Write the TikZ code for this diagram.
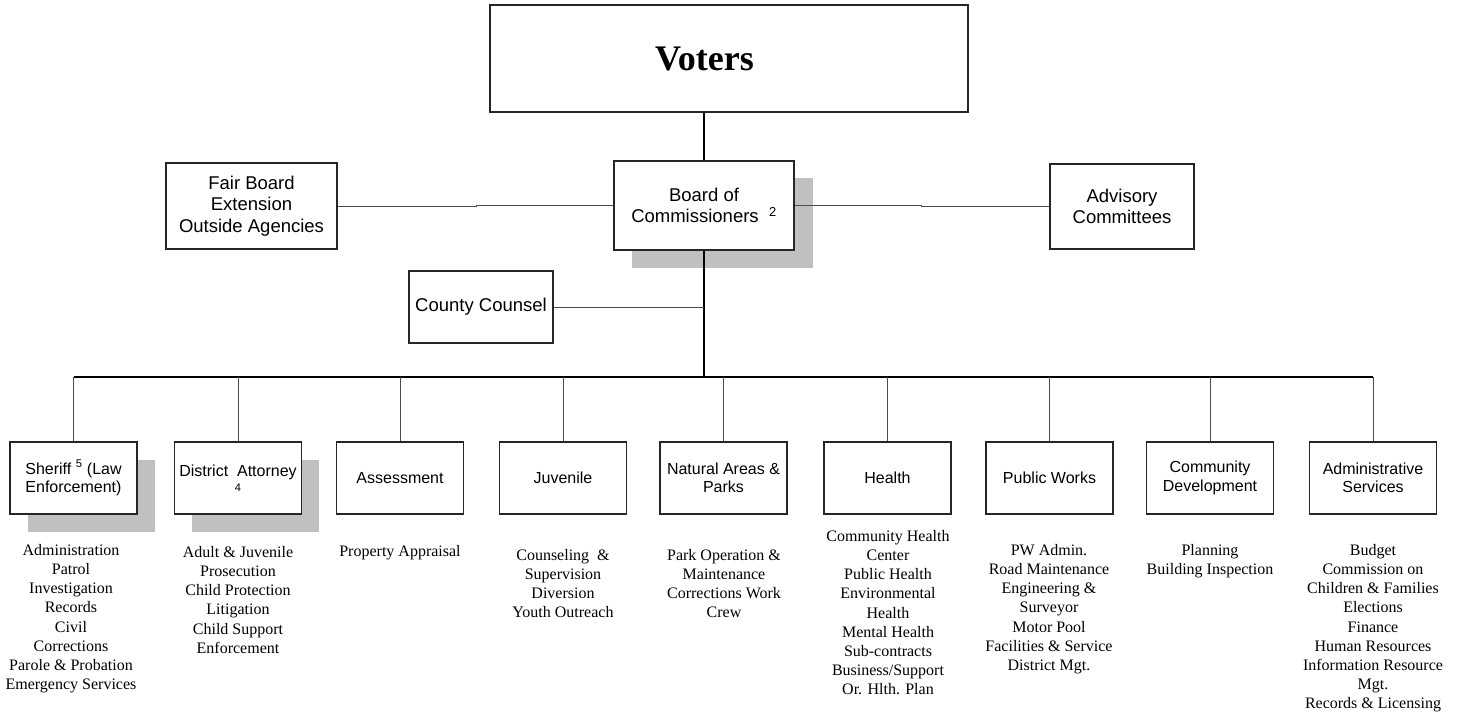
\documentclass[tikz,border=0pt]{standalone}
\usepackage{fontspec}
\setmainfont{Liberation Serif}
\newfontfamily\arialf{Liberation Sans}
\definecolor{shadowgray}{HTML}{C0C0C0}
\newcommand\substrut{\rule{0pt}{12pt}}
\begin{document}
\begin{tikzpicture}[x=1pt,y=-1pt,
 box/.style={draw=black!85, line width=1.2pt, fill=white, inner sep=0pt, align=center,
   minimum width=127pt, minimum height=72pt, font=\arialf\fontsize{16}{18.5}\selectfont},
 topbox/.style={box, font=\arialf\fontsize{18.5}{21.7}\selectfont},
 shadowbox/.style={fill=shadowgray, draw=none, inner sep=0pt, minimum width=127pt, minimum height=72pt},
 sub/.style={anchor=north, inner sep=0pt, align=center, font=\fontsize{16}{19.2}\selectfont},
 link/.style={draw=black!70, line width=0.9pt},
 trunk/.style={draw=black, line width=2pt}]
\useasboundingbox (0,0) rectangle (1458,714);

% shadows
\node[shadowbox, minimum width=181pt, minimum height=90pt] (boardsh) at (722.5,223) {};
\node[shadowbox] (sheriffsh) at (91.5,495.5) {};
\node[shadowbox] (dash) at (255.5,495.5) {};

% top part
\node[box, minimum width=478pt, minimum height=107pt] (voters) at (729,58.5) {};
\node[inner sep=0pt, font=\bfseries\fontsize{36}{40}\selectfont] (voterstxt) at (704.5,58.5) {Voters};
\node[topbox, minimum width=180pt, minimum height=89pt] (board) at (704,205.5) {Board of\\Commissioners\ \ \textsuperscript{2}};
\node[topbox, minimum width=171pt, minimum height=86pt] (fair) at (251.5,206) {Fair Board\\Extension\\Outside Agencies};
\node[topbox, minimum width=144pt, minimum height=85pt] (adv) at (1122,206.5) {Advisory\\Committees};
\node[topbox, minimum width=144pt, minimum height=72pt] (county) at (481,307) {County Counsel};

% departments
\node[box] (sheriff) at (73.5,478) {Sheriff \textsuperscript{5} (Law\\Enforcement)};
\node[box] (da) at (238,478) {District\ \ Attorney\\[-4pt]{\fontsize{11}{12}\selectfont 4}};
\node[box] (assess) at (400,478) {Assessment};
\node[box] (juv) at (563,478) {Juvenile};
\node[box] (nat) at (723.5,478) {Natural Areas \&\\Parks};
\node[box] (health) at (887.5,478) {Health};
\node[box] (pw) at (1049.5,478) {Public Works};
\node[box] (cd) at (1210,478) {Community\\Development};
\node[box] (admin) at (1373,478) {Administrative\\Services};

% connectors
\coordinate (bus) at (704,377);
\coordinate (ctr) at (704,307);
\coordinate (fj) at (476,0);
\coordinate (aj) at (921,0);
\draw[line width=1.2pt] (board.north |- voters.south) -- (board.north);
\draw[link] (fair.east) -- (fair.east -| fj) -- (board.west -| fj) -- (board.west);
\draw[link] (board.east) -- (board.east -| aj) -- (adv.west -| aj) -- (adv.west);
\draw[trunk] (board.south) -- (bus);
\draw[link] (county.east) -- (ctr);
\draw[trunk] (sheriff.north |- bus) -- (admin.north |- bus);
\foreach \n in {sheriff,da,assess,juv,nat,health,pw,cd,admin}
  \draw[link] (\n.north |- bus) -- (\n.north);

% sub texts
\node[sub] (sheriffsub) at (71,543) {\substrut Administration\\Patrol\\Investigation\\Records\\Civil\\Corrections\\Parole \& Probation\\Emergency Services};
\node[sub] (dasub) at (238,545) {\substrut Adult \& Juvenile\\Prosecution\\Child Protection\\Litigation\\Child Support\\Enforcement};
\node[sub] (assesssub) at (400,544) {\substrut Property Appraisal};
\node[sub] (juvsub) at (563,548) {\substrut Counseling\ \ \&\\Supervision\\Diversion\\Youth Outreach};
\node[sub] (natsub) at (724,548) {\substrut Park Operation \&\\Maintenance\\Corrections Work\\Crew};
\node[sub] (healthsub) at (888,529) {\substrut Community Health\\Center\\Public Health\\Environmental\\Health\\Mental Health\\Sub-contracts\\Business/Support\\Or. Hlth. Plan};
\node[sub] (pwsub) at (1049,543) {\substrut PW Admin.\\Road Maintenance\\Engineering \&\\Surveyor\\Motor Pool\\Facilities \& Service\\District Mgt.};
\node[sub] (cdsub) at (1210,543) {\substrut Planning\\Building Inspection};
\node[sub] (adminsub) at (1373,543) {\substrut Budget\\Commission on\\Children \& Families\\Elections\\Finance\\Human Resources\\Information Resource\\Mgt.\\Records \& Licensing};
\end{tikzpicture}
\end{document}
